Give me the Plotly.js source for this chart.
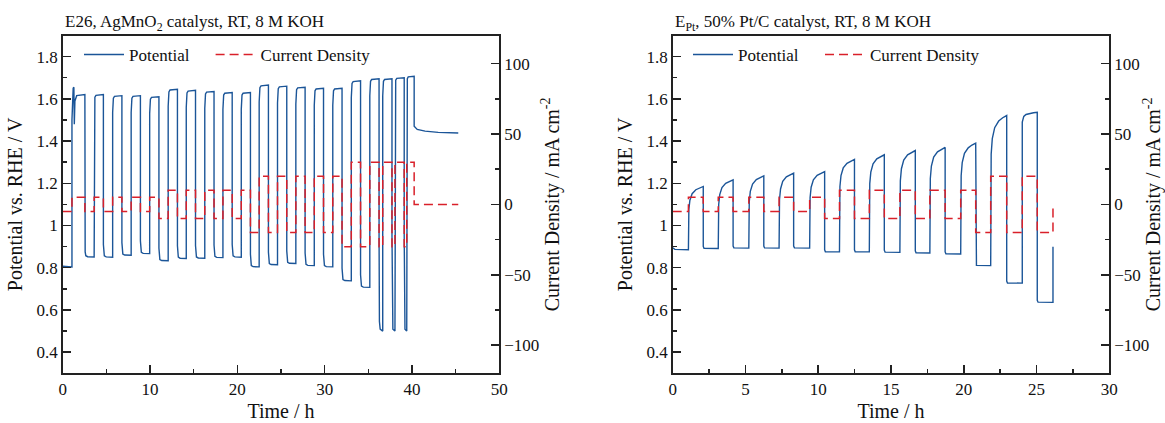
<!DOCTYPE html>
<html><head><meta charset="utf-8">
<script src="https://cdn.plot.ly/plotly-3.0.1.min.js"></script>
<style>html,body{margin:0;padding:0;background:#fff;} #chart{width:1165px;height:423px;}</style>
</head><body><div id="chart"></div>
<script>
// ================= data =================
// ---- Left panel: E26, AgMnO2 catalyst ----
const leftFirstChargeT = [1.06, 1.12, 1.20, 1.28, 1.33, 1.40, 1.60, 2.54];
const leftFirstChargeV = [1.50, 1.63, 1.65, 1.655, 1.48, 1.59, 1.615, 1.62];
const leftChargeStart = [1.06, 3.60, 5.72, 7.84, 9.96, 12.08, 14.15, 16.27, 18.35, 20.45, 22.50, 24.60, 26.70, 28.81, 30.93, 33.05, 35.17, 36.65, 38.05, 39.40];
const leftChargeEnd   = [2.54, 4.66, 6.78, 8.90, 11.02, 13.14, 15.21, 17.33, 19.41, 21.50, 23.56, 25.66, 27.76, 29.87, 31.99, 34.11, 36.23, 37.71, 39.11, 40.25];
const leftChargeV     = [1.62, 1.62, 1.615, 1.615, 1.61, 1.645, 1.64, 1.635, 1.63, 1.63, 1.665, 1.66, 1.655, 1.65, 1.65, 1.685, 1.695, 1.695, 1.70, 1.707];
const leftDischargeV  = [0.804, 0.851, 0.850, 0.859, 0.867, 0.833, 0.844, 0.845, 0.848, 0.850, 0.804, 0.814, 0.820, 0.810, 0.804, 0.738, 0.707, 0.50, 0.50, 0.50];
const leftChargeI     = [5, 5, 5, 5, 5, 10, 10, 10, 10, 10, 20, 20, 20, 20, 20, 30, 30, 30, 30, 30];
const leftDischargeI  = [-5, -5, -5, -5, -5, -10, -10, -10, -10, -10, -20, -20, -20, -20, -20, -30, -30, -30, -30, -30];
const leftRestT = [40.25, 40.6, 41.5, 43.0, 45.3];
const leftRestV = [1.47, 1.455, 1.447, 1.441, 1.438];
const leftRestI = 0;

// ---- Right panel: E_Pt, 50% Pt/C catalyst ----
const rightChargeStart = [1.08, 3.13, 5.23, 7.31, 9.41, 11.46, 13.51, 15.61, 17.67, 19.79, 21.85, 24.02];
const rightChargeEnd   = [2.10, 4.15, 6.26, 8.31, 10.44, 12.49, 14.54, 16.67, 18.72, 20.82, 22.95, 25.05];
const rightChargeOnset = [1.03, 1.05, 1.06, 1.07, 1.08, 1.13, 1.14, 1.15, 1.16, 1.17, 1.26, 1.49];
const rightChargeV     = [1.185, 1.216, 1.235, 1.248, 1.255, 1.313, 1.335, 1.355, 1.370, 1.390, 1.521, 1.536];
const rightDischargeV  = [0.885, 0.891, 0.893, 0.893, 0.893, 0.875, 0.875, 0.873, 0.870, 0.865, 0.810, 0.727, 0.636];
const rightChargeI     = [5, 5, 5, 5, 5, 10, 10, 10, 10, 10, 20, 20];
const rightDischargeI  = [-5, -5, -5, -5, -5, -10, -10, -10, -10, -10, -20, -20, -20];
const rightEndT = 26.13, rightEndV = 0.90, rightEndI = -3;

// ---- text ----
const leftTitle  = 'E26, AgMnO<sub>2</sub> catalyst, RT, 8 M KOH';
const rightTitle = 'E<sub>Pt</sub>, 50% Pt/C catalyst, RT, 8 M KOH';
const xTitle = 'Time / h';
const yTitle = 'Potential vs. RHE / V';
const y2Title = 'Current Density / mA cm<sup>-2</sup>';
const seriesNames = ['Potential', 'Current Density'];

// ================= build the curves =================
function seg(xs, ys, t0, t1, v0, v1, shape) {
  xs.push(t0); ys.push(v0);
  shape.forEach(([r, f]) => { xs.push(t0 + r * (t1 - t0)); ys.push(v0 + f * (v1 - v0)); });
}
function buildLeft() {
  const xs = [], ys = [];
  const chShape = [[0.03, 0.6], [0.08, 0.85], [0.2, 0.96], [1, 1]];
  const dShape = [[0.03, 0.6], [0.1, 0.9], [0.3, 0.98], [1, 1]];
  xs.push(0); ys.push(leftDischargeV[0] + 0.003);
  xs.push(leftChargeStart[0]); ys.push(leftDischargeV[0]);
  for (let k = 0; k < leftChargeStart.length; k++) {
    if (k === 0) { leftFirstChargeT.forEach((t, i) => { xs.push(t); ys.push(leftFirstChargeV[i]); }); }
    else seg(xs, ys, leftChargeStart[k], leftChargeEnd[k], leftChargeV[k] - 0.08, leftChargeV[k], chShape);
    if (k + 1 < leftChargeStart.length) {
      const L = leftDischargeV[k + 1];
      seg(xs, ys, leftChargeEnd[k], leftChargeStart[k + 1], L > 0.6 ? L + 0.06 : 0.95, L, dShape);
    }
  }
  leftRestT.forEach((t, i) => { xs.push(t); ys.push(leftRestV[i]); });
  return [xs, ys];
}
function buildLeftI() {
  const xs = [0], ys = [leftDischargeI[0]];
  for (let k = 0; k < leftChargeStart.length; k++) {
    xs.push(leftChargeStart[k]); ys.push(leftChargeI[k]);
    if (k + 1 < leftChargeStart.length) { xs.push(leftChargeEnd[k]); ys.push(leftDischargeI[k + 1]); }
  }
  xs.push(leftRestT[0]); ys.push(leftRestI);
  xs.push(leftRestT[leftRestT.length - 1]); ys.push(leftRestI);
  return [xs, ys];
}
function buildRight() {
  const xs = [], ys = [];
  const chShape = [[0.03, 0.3], [0.1, 0.58], [0.25, 0.78], [0.5, 0.9], [0.75, 0.96], [1, 1]];
  const dShape = [[0.05, 0.9], [1, 1]];
  xs.push(0); ys.push(rightDischargeV[0] + 0.01);
  xs.push(0.15); ys.push(rightDischargeV[0] + 0.002);
  xs.push(rightChargeStart[0]); ys.push(rightDischargeV[0]);
  for (let k = 0; k < rightChargeStart.length; k++) {
    seg(xs, ys, rightChargeStart[k], rightChargeEnd[k], rightChargeOnset[k], rightChargeV[k], chShape);
    const L = rightDischargeV[k + 1];
    const tEnd = k + 1 < rightChargeStart.length ? rightChargeStart[k + 1] : rightEndT;
    seg(xs, ys, rightChargeEnd[k], tEnd, L + 0.01, L, dShape);
  }
  xs.push(rightEndT); ys.push(rightEndV);
  return [xs, ys];
}
function buildRightI() {
  const xs = [0], ys = [rightDischargeI[0]];
  for (let k = 0; k < rightChargeStart.length; k++) {
    xs.push(rightChargeStart[k]); ys.push(rightChargeI[k]);
    xs.push(rightChargeEnd[k]); ys.push(rightDischargeI[k + 1]);
  }
  xs.push(rightEndT); ys.push(rightEndI);
  return [xs, ys];
}

const FONT = 'Liberation Serif, Times New Roman, serif';
const BLUE = '#1b5598', RED = '#d9202a', INK = '#222';
const [lx, lv] = buildLeft(), [lix, liy] = buildLeftI();
const [rx, rv] = buildRight(), [rix, riy] = buildRightI();

const traces = [
  {x: lx, y: lv, xaxis: 'x', yaxis: 'y', name: seriesNames[0], mode: 'lines', line: {color: BLUE, width: 1.4}, legend: 'legend', showlegend: true},
  {x: lix, y: liy, xaxis: 'x', yaxis: 'y2', name: seriesNames[1], mode: 'lines', line: {color: RED, width: 1.5, dash: '9px,5px', shape: 'hv'}, legend: 'legend3', showlegend: true},
  {x: rx, y: rv, xaxis: 'x2', yaxis: 'y3', name: seriesNames[0], mode: 'lines', line: {color: BLUE, width: 1.4}, legend: 'legend2', showlegend: true},
  {x: rix, y: riy, xaxis: 'x2', yaxis: 'y4', name: seriesNames[1], mode: 'lines', line: {color: RED, width: 1.5, dash: '9px,5px', shape: 'hv'}, legend: 'legend4', showlegend: true}
];

const W = 1165, H = 423;
const common = {showline: true, linecolor: INK, linewidth: 1.5, ticks: 'inside', ticklen: 8, tickwidth: 1.5, tickcolor: INK,
  showgrid: false, zeroline: false, tickfont: {family: FONT, size: 17, color: '#111'}};
const minor = (d) => ({dtick: d, ticks: 'inside', ticklen: 4, tickwidth: 1.5, tickcolor: INK, showgrid: false});
const yDom = [1 - 373.3 / H, 1 - 35.5 / H];
const lDom = [62.7 / W, 499.3 / W], rDom = [672.7 / W, 1109.3 / W];
const xt = {text: xTitle, font: {family: FONT, size: 20, color: '#111'}, standoff: 6};
const yt = {text: yTitle, font: {family: FONT, size: 20, color: '#111'}, standoff: 8};
const y2t = {text: y2Title, font: {family: FONT, size: 20, color: '#111'}, standoff: 6};
const legendBase = {orientation: 'h', y: 1 - 55 / H, xanchor: 'left', yanchor: 'middle', bgcolor: 'rgba(0,0,0,0)',
  font: {family: FONT, size: 17, color: '#111'}, itemwidth: 40, visible: true};

const layout = {
  width: W, height: H, margin: {l: 0, r: 0, t: 0, b: 0}, paper_bgcolor: '#fff', plot_bgcolor: '#fff',
  showlegend: true,
  font: {family: FONT, size: 17, color: '#111'},
  xaxis: Object.assign({}, common, {domain: lDom, range: [0, 50], dtick: 10, tick0: 0, mirror: true, anchor: 'y', title: xt, minor: minor(5)}),
  yaxis: Object.assign({}, common, {domain: yDom, range: [0.3, 1.9], dtick: 0.2, tick0: 0, anchor: 'x', title: yt, minor: minor(0.1)}),
  yaxis2: Object.assign({}, common, {range: [-120, 120], dtick: 50, tick0: 0, overlaying: 'y', side: 'right', anchor: 'x', title: y2t, minor: minor(25)}),
  xaxis2: Object.assign({}, common, {domain: rDom, range: [0, 30], dtick: 5, tick0: 0, mirror: true, anchor: 'y3', title: xt, minor: minor(2.5)}),
  yaxis3: Object.assign({}, common, {domain: yDom, range: [0.3, 1.9], dtick: 0.2, tick0: 0, anchor: 'x2', title: yt, minor: minor(0.1)}),
  yaxis4: Object.assign({}, common, {range: [-120, 120], dtick: 50, tick0: 0, overlaying: 'y3', side: 'right', anchor: 'x2', title: y2t, minor: minor(25)}),
  legend: Object.assign({}, legendBase, {x: 79 / W}),
  legend3: Object.assign({}, legendBase, {x: 210.6 / W}),
  legend2: Object.assign({}, legendBase, {x: 688 / W}),
  legend4: Object.assign({}, legendBase, {x: 820 / W}),
  annotations: [
    {text: leftTitle, xref: 'paper', yref: 'paper', x: 62.7 / W, y: 1 - 22.7 / H, xanchor: 'left', yanchor: 'middle', showarrow: false, font: {family: FONT, size: 17, color: '#111'}},
    {text: rightTitle, xref: 'paper', yref: 'paper', x: 672.7 / W, y: 1 - 22.7 / H, xanchor: 'left', yanchor: 'middle', showarrow: false, font: {family: FONT, size: 17, color: '#111'}}
  ]
};
Plotly.newPlot('chart', traces, layout, {staticPlot: true, displayModeBar: false});
</script></body></html>
